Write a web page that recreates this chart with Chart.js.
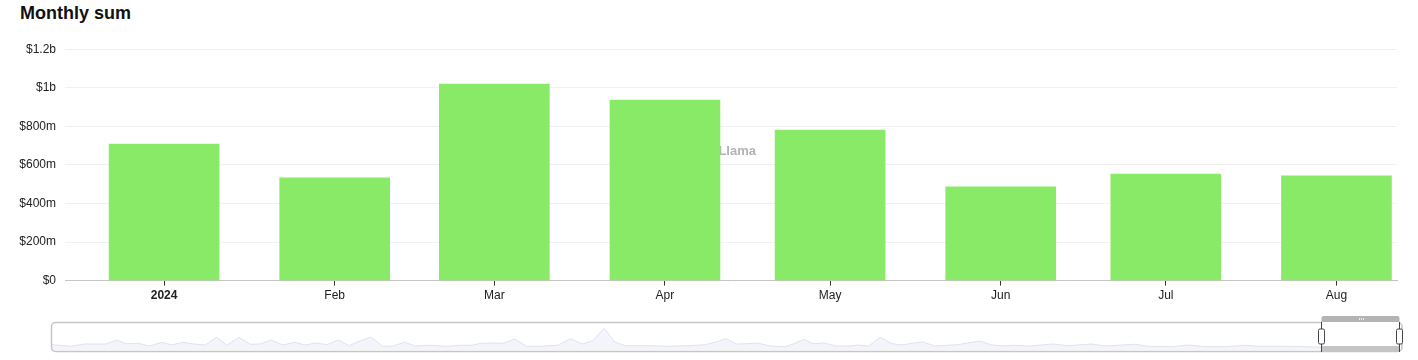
<!DOCTYPE html>
<html>
<head>
<meta charset="utf-8">
<script src="https://cdn.jsdelivr.net/npm/chart.js@4.4.1/dist/chart.umd.min.js"></script>
<style>
    body { margin: 0; background: #fff; font-family: "Liberation Sans", Arial, sans-serif; }
    #wrap { position: relative; width: 1418px; height: 360px; }
    #title { position: absolute; left: 20px; top: 3px; font-size: 18px; font-weight: bold; color: #111; }
    #mainBox { position: absolute; left: 0; top: 33px; width: 1418px; height: 275px; }
    #navBox { position: absolute; left: 0; top: 312px; width: 1418px; height: 46px; }
</style>
</head>
<body>
<div id="wrap">
    <div id="title">Monthly sum</div>
    <div id="mainBox"><canvas id="monthlyChart"></canvas></div>
    <div id="navBox"><canvas id="navChart"></canvas></div>
</div>
<script>
// monthly totals (USD)
const monthDates = ['2024-01-01', '2024-02-01', '2024-03-01', '2024-04-01', '2024-05-01', '2024-06-01', '2024-07-01', '2024-08-01'];
const monthLabels = ['2024', 'Feb', 'Mar', 'Apr', 'May', 'Jun', 'Jul', 'Aug'];
const monthValues = [708e6, 533e6, 1019e6, 936e6, 781e6, 486e6, 553e6, 543e6];

// navigator history (position in months from start, value in $b)
const navMonths = [0.0, 1.6, 2.8, 4.6, 5.6, 6.4, 7.4, 8.4, 9.5, 10.3, 11.3, 12.2, 13.2, 14.2, 15.1, 16.1, 17.1, 17.9, 18.9, 19.9,
    20.9, 21.8, 22.8, 23.7, 24.7, 25.6, 26.6, 27.5, 28.5, 29.4, 30.4, 31.3, 32.6, 34.0, 35.2, 36.2, 37.0, 38.0, 38.9, 39.9,
    40.9, 42.1, 43.6, 44.7, 45.7, 46.6, 47.6, 48.5, 49.4, 51.4, 53.1, 54.9, 56.3, 57.2, 58.1, 59.0, 60.0, 60.8, 61.9, 63.2,
    63.9, 64.8, 65.6, 66.6, 67.6, 68.8, 69.5, 70.4, 71.4, 72.4, 73.2, 74.3, 75.1, 76.1, 77.1, 78.1, 78.9, 80.0, 80.9, 81.9,
    82.9, 84.3, 85.0, 86.3, 87.6, 89.6, 90.8, 93.4, 94.5, 96.5, 98.0, 99.4, 101.1, 102.8, 104.0, 105.4, 107.3,
    109.2, 110.2, 111.2, 112.2, 113.2, 114.2, 115.2, 116.2];
const navValues = [1.33, 0.93, 1.5, 1.5, 2.43, 1.58, 1.68, 1.0, 1.93, 1.25, 1.93, 1.5, 1.25, 3.18, 1.18, 3.18, 1.43, 1.5, 2.5, 1.25,
    1.93, 1.25, 1.75, 1.33, 2.5, 1.08, 2.33, 3.25, 0.93, 1.0, 1.93, 1.0, 1.18, 0.93, 1.18, 1.18, 1.68, 1.75, 1.68, 2.75,
    0.93, 0.93, 1.18, 2.83, 1.5, 2.33, 5.43, 2.0, 1.08, 1.08, 0.93, 1.08, 1.33, 2.0, 2.83, 1.5, 1.58, 1.75, 1.0, 0.83,
    1.5, 2.68, 1.58, 1.75, 1.0, 1.0, 1.25, 1.0, 3.18, 1.58, 1.25, 1.75, 2.0, 1.0, 1.18, 1.33, 1.75, 2.25, 1.33, 1.0,
    1.18, 1.0, 1.18, 1.5, 1.08, 1.5, 1.0, 1.43, 0.93, 0.83, 1.25, 0.83, 0.83, 1.18, 0.93, 0.93, 0.9,
    0.708, 0.533, 1.019, 0.936, 0.781, 0.486, 0.553, 0.543];
const navSelection = [109.4, 116.2];

const dayMs = 86400000;
const yearStart = Date.parse(monthDates[0] + 'T00:00:00Z');
const monthDays = monthDates.map(d => (Date.parse(d + 'T00:00:00Z') - yearStart) / dayMs);

function formatMoney(v) {
    if (v === 0) return '$0';
    if (v >= 1e9) return '$' + Math.round(v / 1e8) / 10 + 'b';
    return '$' + Math.round(v / 1e6) + 'm';
}

const watermark = {
    id: 'watermark',
    beforeDatasetsDraw(chart) {
        const ctx = chart.ctx;
        ctx.save();
        ctx.font = 'bold 13px "Liberation Sans", Arial, sans-serif';
        ctx.fillStyle = '#b3b3b3';
        ctx.textAlign = 'right';
        ctx.textBaseline = 'middle';
        ctx.fillText('DefiLlama', 756, 118);
        ctx.restore();
    }
};

new Chart(document.getElementById('monthlyChart'), {
    type: 'bar',
    data: {
        datasets: [{
            label: 'Monthly sum',
            data: monthDays.map((d, i) => ({ x: d, y: monthValues[i] })),
            backgroundColor: 'rgb(136, 234, 102)',
            borderWidth: 0,
            barThickness: 110
        }]
    },
    options: {
        responsive: true,
        maintainAspectRatio: false,
        animation: false,
        layout: { padding: { left: 0, right: 21, top: 1, bottom: 2 } },
        plugins: {
            legend: { display: false },
            tooltip: { enabled: false }
        },
        scales: {
            x: {
                type: 'linear',
                offset: false,
                min: -18,
                max: 224,
                afterBuildTicks: function(scale) {
                    scale.ticks = monthDays.map(d => ({ value: d }));
                },
                grid: {
                    offset: false,
                    drawOnChartArea: false,
                    drawTicks: true,
                    tickLength: 5,
                    tickColor: '#333'
                },
                border: { display: true, color: '#c4c4c4' },
                ticks: {
                    padding: 3,
                    color: '#222',
                    maxRotation: 0,
                    autoSkip: false,
                    callback: function(value, index) {
                        return monthLabels[index];
                    },
                    font: function(context) {
                        return {
                            family: '"Liberation Sans", Arial, sans-serif',
                            size: 12,
                            weight: context.index === 0 ? 'bold' : 'normal'
                        };
                    }
                }
            },
            y: {
                min: 0,
                max: 1.2e9,
                afterFit: function(scale) { scale.width = 65; },
                grid: { color: '#f1f1f1', drawTicks: false },
                border: { display: false },
                ticks: {
                    stepSize: 2e8,
                    padding: 9,
                    color: '#222',
                    font: { family: '"Liberation Sans", Arial, sans-serif', size: 12 },
                    callback: function(value) { return formatMoney(value); }
                }
            }
        }
    },
    plugins: [watermark]
});

const navigatorFrame = {
    id: 'navigatorFrame',
    afterDraw(chart) {
        const ctx = chart.ctx;
        const x = chart.scales.x;
        const area = chart.chartArea;
        const s0 = Math.round(x.getPixelForValue(navSelection[0])) + 0.5;
        const s1 = Math.round(x.getPixelForValue(navSelection[1])) - 0.5;
        ctx.save();
        // outline
        ctx.strokeStyle = '#c6c6c6';
        ctx.lineWidth = 1.5;
        ctx.beginPath();
        ctx.roundRect(area.left - 0.5, area.top - 0.5, s1 - area.left + 3, area.bottom - area.top + 2, 4);
        ctx.stroke();
        // selected range
        ctx.fillStyle = '#fff';
        ctx.fillRect(s0, area.top - 1, s1 - s0, area.bottom - area.top - 3);
        ctx.fillStyle = '#b4b4b4';
        ctx.beginPath();
        ctx.roundRect(s0, area.top - 7, s1 - s0, 6, [2, 2, 0, 0]);
        ctx.fill();
        ctx.fillStyle = '#c4c4c4';
        ctx.fillRect(s0, area.bottom - 4, s1 - s0, 6);
        ctx.strokeStyle = '#eee';
        ctx.lineWidth = 1;
        const mid = Math.round((s0 + s1) / 2);
        for (let k = -2; k <= 2; k += 2) {
            ctx.beginPath();
            ctx.moveTo(mid + k + 0.5, area.top - 5);
            ctx.lineTo(mid + k + 0.5, area.top - 3);
            ctx.stroke();
        }
        ctx.strokeStyle = '#444';
        [s0, s1].forEach(px => {
            ctx.beginPath();
            ctx.moveTo(px, area.top - 1);
            ctx.lineTo(px, area.bottom + 2);
            ctx.stroke();
            ctx.fillStyle = '#fff';
            ctx.beginPath();
            ctx.roundRect(px - 3, area.top + 6, 6, 15, 1.5);
            ctx.fill();
            ctx.stroke();
        });
        ctx.restore();
    }
};

new Chart(document.getElementById('navChart'), {
    type: 'line',
    data: {
        datasets: [{
            data: navMonths.map((m, i) => ({ x: m, y: navValues[i] })),
            borderColor: '#dde2ee',
            backgroundColor: '#f3f5fa',
            borderWidth: 1,
            pointRadius: 0,
            tension: 0,
            fill: 'origin'
        }]
    },
    options: {
        responsive: true,
        maintainAspectRatio: false,
        animation: false,
        layout: { padding: { left: 52, right: 18, top: 11, bottom: 8 } },
        plugins: {
            legend: { display: false },
            tooltip: { enabled: false }
        },
        scales: {
            x: { type: 'linear', display: false, min: 0, max: 116.2 },
            y: { display: false, min: 0, max: 6.75 }
        }
    },
    plugins: [navigatorFrame]
});
</script>
</body>
</html>
